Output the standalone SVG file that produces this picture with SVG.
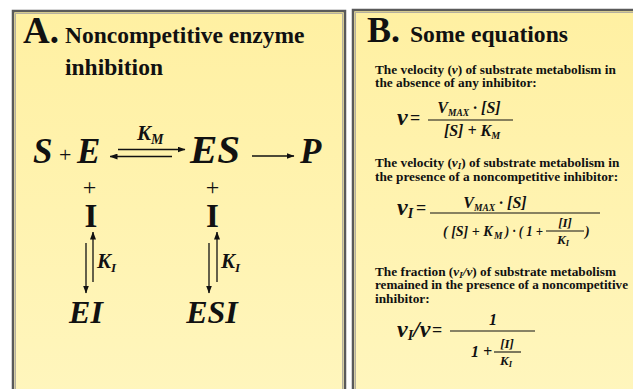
<svg xmlns="http://www.w3.org/2000/svg" width="633" height="389" viewBox="0 0 633 389">
<style>
.t{font-family:"Liberation Serif","Times New Roman",serif;font-weight:bold;fill:#111}
.bi{font-family:"Liberation Serif","Times New Roman",serif;font-weight:bold;font-style:italic;fill:#111}
.r{font-family:"Liberation Serif","Times New Roman",serif;fill:#111}
.ln{stroke:#111;stroke-width:1.3;fill:none}
.fr{stroke:#111;stroke-width:1.1}
.panel{fill:url(#bg);stroke:#5a5a5a;stroke-width:2.5}
.inner{fill:none;stroke:#b5b0a0;stroke-width:1}
</style>
<defs>
<linearGradient id="bg" x1="0" y1="0" x2="0" y2="1">
<stop offset="0" stop-color="#FFF0A2"/>
<stop offset="1" stop-color="#FFF6BE"/>
</linearGradient>
<marker id="ah" viewBox="0 0 8 6" refX="7.5" refY="3" markerWidth="8" markerHeight="6" markerUnits="userSpaceOnUse" orient="auto">
<path d="M0,0 L8,3 L0,6 Z" fill="#111"/>
</marker>
</defs>
<rect width="633" height="389" fill="#fff"/>
<g id="panelA">
<rect class="panel" x="13" y="11" width="332" height="400"/>
<rect class="inner" x="15.5" y="13.5" width="327" height="400"/>
<text class="t" x="23" y="43" font-size="37">A.</text>
<text class="t" x="65" y="43" font-size="23.5">Noncompetitive enzyme</text>
<text class="t" x="65" y="75" font-size="23.5">inhibition</text>
</g>
<g id="panelB">
<rect class="panel" x="353" y="10" width="300" height="400"/>
<rect class="inner" x="355.5" y="12.5" width="300" height="400"/>
<text class="t" x="367" y="42" font-size="36">B.</text>
<text class="t" x="410" y="42" font-size="23.6">Some equations</text>
</g>
<g id="connectors">
<line class="ln" x1="118" y1="149.5" x2="185" y2="149.5" marker-end="url(#ah)"/>
<line class="ln" x1="172" y1="156.5" x2="110" y2="156.5" marker-end="url(#ah)"/>
<line class="ln" x1="252" y1="156" x2="294" y2="156" marker-end="url(#ah)"/>
<line class="ln" x1="86" y1="243" x2="86" y2="293" marker-end="url(#ah)"/>
<line class="ln" x1="93" y1="282" x2="93" y2="232" marker-end="url(#ah)"/>
<line class="ln" x1="209" y1="243" x2="209" y2="293" marker-end="url(#ah)"/>
<line class="ln" x1="217" y1="282" x2="217" y2="232" marker-end="url(#ah)"/>
<text class="bi" x="137" y="140" font-size="21">K<tspan font-size="14" dy="4">M</tspan></text>
<text class="bi" x="97" y="268" font-size="21">K<tspan font-size="13" dy="4">I</tspan></text>
<text class="bi" x="221" y="268" font-size="21">K<tspan font-size="13" dy="4">I</tspan></text>
</g>
<g id="node-SE">
<text class="bi" x="33" y="163" font-size="35">S</text>
<text class="r" x="59" y="162" font-size="22">+</text>
<text class="bi" x="77" y="163" font-size="35">E</text>
</g>
<g id="node-ES"><text class="bi" x="190" y="163" font-size="41">ES</text></g>
<g id="node-P"><text class="bi" x="300" y="163" font-size="35">P</text></g>
<g id="node-I1">
<text class="r" x="89.5" y="195" font-size="24" text-anchor="middle">+</text>
<text class="t" x="91" y="227" font-size="33" text-anchor="middle">I</text>
</g>
<g id="node-I2">
<text class="r" x="212.5" y="195" font-size="24" text-anchor="middle">+</text>
<text class="t" x="212.5" y="227" font-size="33" text-anchor="middle">I</text>
</g>
<g id="node-EI"><text class="bi" x="86" y="323" font-size="32" text-anchor="middle">EI</text></g>
<g id="node-ESI"><text class="bi" x="212" y="323" font-size="32" text-anchor="middle">ESI</text></g>
<g id="equations">
<text class="t" x="375" y="74" font-size="13.3">The velocity (<tspan font-style="italic">v</tspan>) of substrate metabolism in</text>
<text class="t" x="375" y="87" font-size="13.3">the absence of any inhibitor:</text>
<text class="bi" x="397" y="125" font-size="24">v</text>
<text class="t" x="410" y="124" font-size="18">=</text>
<text class="bi" x="469" y="113" font-size="16" text-anchor="middle">V<tspan font-size="9.5" dy="3">MAX</tspan><tspan dy="-3"> · [S]</tspan></text>
<line class="fr" x1="428" y1="120" x2="513" y2="120"/>
<text class="bi" x="472" y="136" font-size="16" text-anchor="middle">[S] + K<tspan font-size="10" dy="3">M</tspan></text>

<text class="t" x="375" y="167" font-size="13.3">The velocity (<tspan font-style="italic">v</tspan><tspan font-size="9" dy="2" font-style="italic">I</tspan><tspan dy="-2">) of substrate metabolism in</tspan></text>
<text class="t" x="375" y="181" font-size="13.3">the presence of a noncompetitive inhibitor:</text>
<text class="bi" x="397" y="215" font-size="24">v<tspan font-size="14" dy="3">I</tspan></text>
<text class="t" x="416" y="214" font-size="18">=</text>
<text class="bi" x="495" y="208" font-size="16" text-anchor="middle">V<tspan font-size="9.5" dy="3">MAX</tspan><tspan dy="-3"> · [S]</tspan></text>
<line class="fr" x1="430" y1="213" x2="600" y2="213"/>
<text class="bi" x="443" y="236" font-size="14">( [S] + K</text>
<text class="bi" x="494" y="239" font-size="9.5">M</text>
<text class="bi" x="505" y="236" font-size="14" textLength="38" lengthAdjust="spacingAndGlyphs">) · ( 1 +</text>
<text class="bi" x="565" y="227" font-size="13" text-anchor="middle">[I]</text>
<line class="fr" x1="546" y1="231" x2="584" y2="231"/>
<text class="bi" x="563" y="244" font-size="13" text-anchor="middle">K<tspan font-size="8.5" dy="2">I</tspan></text>
<text class="bi" x="585" y="236" font-size="14">)</text>

<text class="t" x="375" y="276" font-size="13.3">The fraction (<tspan font-style="italic">v</tspan><tspan font-size="9" dy="2" font-style="italic">I</tspan><tspan dy="-2" font-style="italic">/v</tspan>) of substrate metabolism</text>
<text class="t" x="375" y="289" font-size="13.3" textLength="253" lengthAdjust="spacingAndGlyphs">remained in the presence of a noncompetitive</text>
<text class="t" x="375" y="303" font-size="13.3">inhibitor:</text>
<text class="bi" x="397" y="337" font-size="24">v<tspan font-size="14" dy="3">I</tspan><tspan dy="-3">/v</tspan></text>
<text class="t" x="432" y="336" font-size="18">=</text>
<text class="bi" x="493" y="325" font-size="16" text-anchor="middle">1</text>
<line class="fr" x1="450" y1="331" x2="535" y2="331"/>
<text class="bi" x="471" y="357" font-size="16">1 +</text>
<text class="bi" x="507" y="348" font-size="13" text-anchor="middle">[I]</text>
<line class="fr" x1="494" y1="352" x2="521" y2="352"/>
<text class="bi" x="506" y="365" font-size="13" text-anchor="middle">K<tspan font-size="8.5" dy="2">I</tspan></text>
</g>
</svg>
